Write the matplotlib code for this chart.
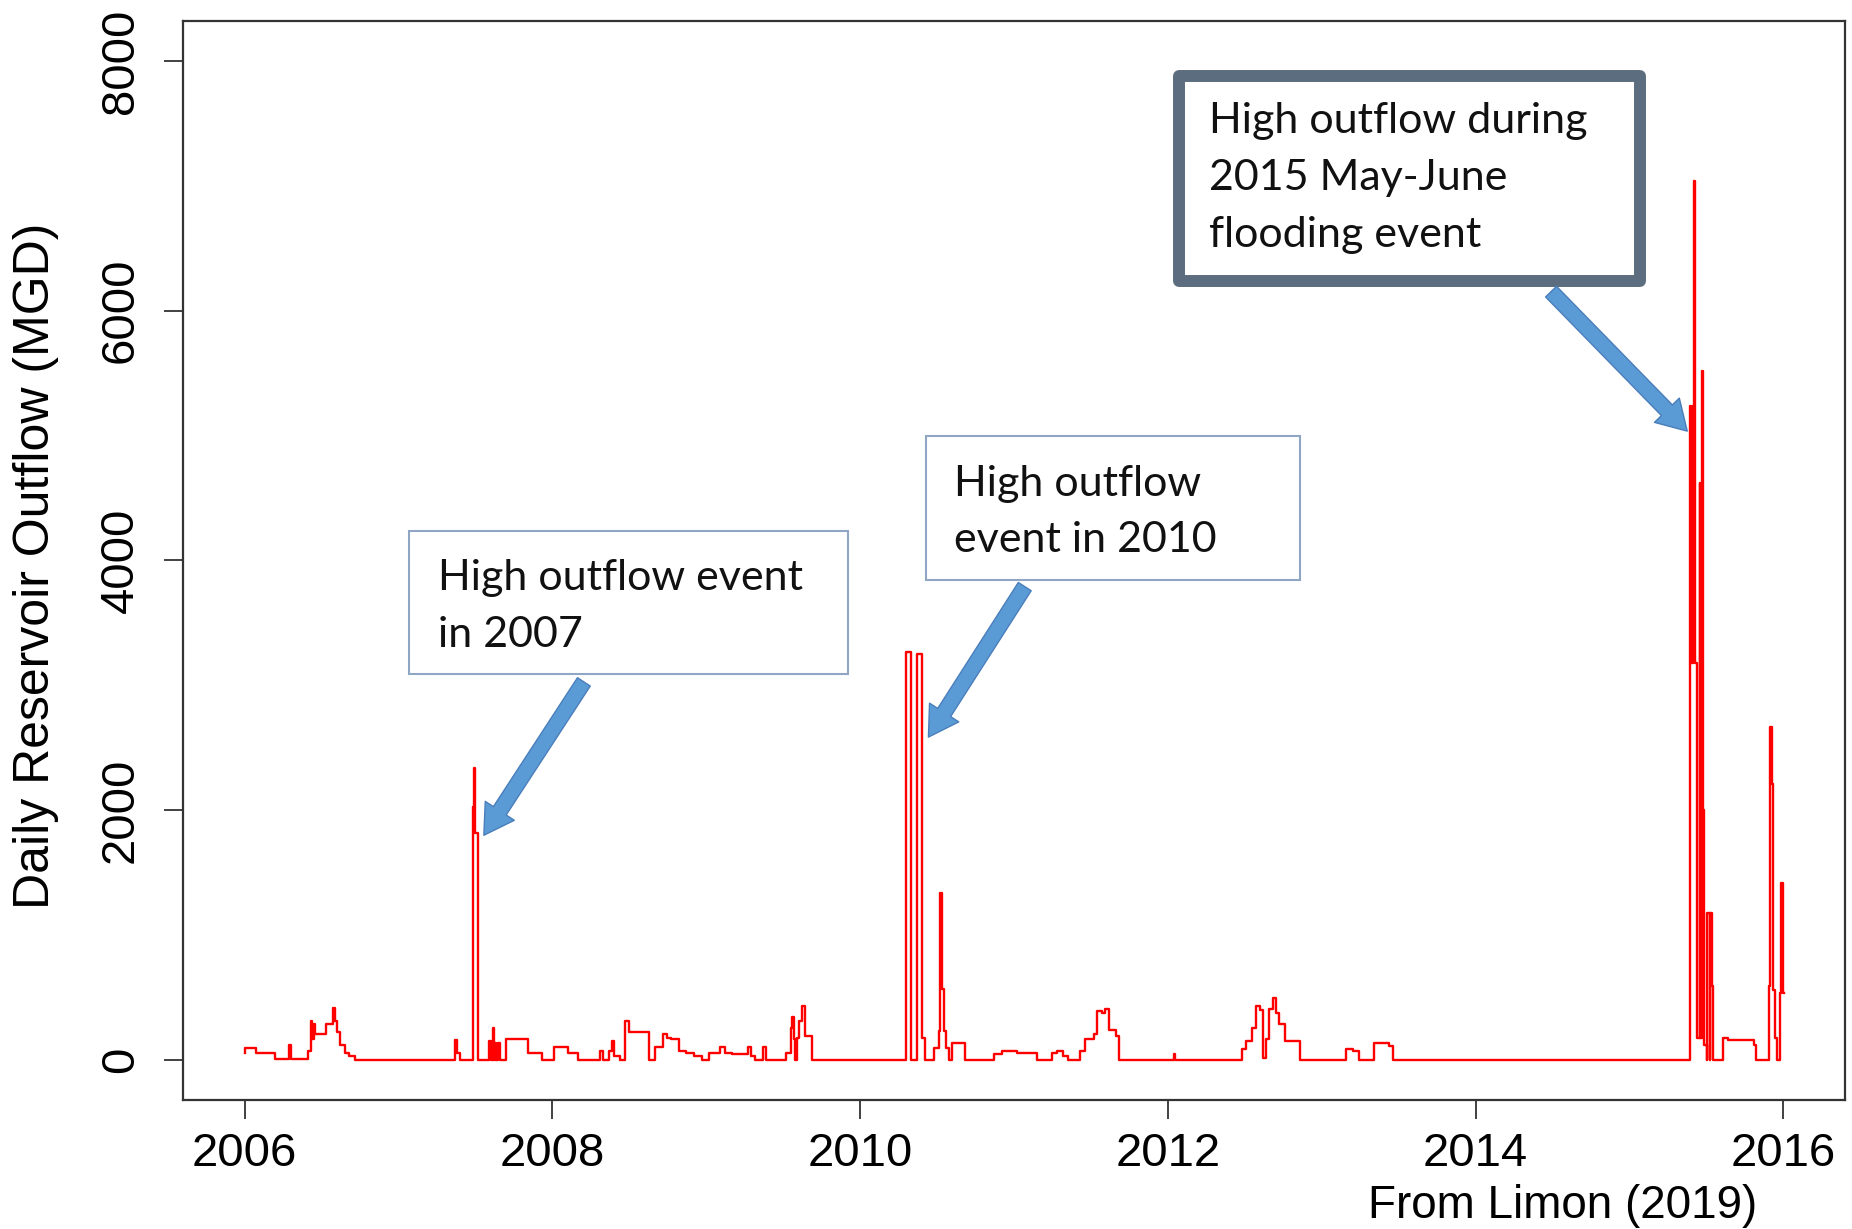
import matplotlib
matplotlib.use('Agg')
import matplotlib.pyplot as plt
from matplotlib.patches import Rectangle, FancyArrowPatch

# daily reservoir outflow (MGD)
dates = [
    2006.000, 2006.004, 2006.075, 2006.200, 2006.290, 2006.300, 2006.410, 2006.430, 2006.440, 2006.450,
    2006.460, 2006.530, 2006.575, 2006.585, 2006.600, 2006.620, 2006.650, 2006.680, 2006.720,
    2007.370, 2007.380, 2007.400,
    2007.485, 2007.490, 2007.495, 2007.500, 2007.520,
    2007.590, 2007.600, 2007.615, 2007.620, 2007.630, 2007.635, 2007.650, 2007.660, 2007.700, 2007.840,
    2007.930, 2008.010, 2008.100, 2008.170,
    2008.310, 2008.330, 2008.370, 2008.385, 2008.400, 2008.440, 2008.470, 2008.500, 2008.630, 2008.670,
    2008.720, 2008.745, 2008.770, 2008.820, 2008.870, 2008.920, 2008.970,
    2009.020, 2009.090, 2009.120, 2009.170, 2009.270, 2009.290, 2009.320, 2009.370, 2009.390,
    2009.520, 2009.550, 2009.560, 2009.570, 2009.580, 2009.590, 2009.600, 2009.625, 2009.640, 2009.690,
    2010.300, 2010.330, 2010.370, 2010.400, 2010.420, 2010.480, 2010.510, 2010.520, 2010.535, 2010.545,
    2010.560, 2010.580, 2010.595, 2010.680,
    2010.870, 2010.920, 2011.020, 2011.150, 2011.250, 2011.280, 2011.320, 2011.350, 2011.430, 2011.460,
    2011.520, 2011.540, 2011.570, 2011.590, 2011.620, 2011.660, 2011.680,
    2012.040, 2012.045,
    2012.480, 2012.510, 2012.545, 2012.570, 2012.600, 2012.620, 2012.640, 2012.660, 2012.680, 2012.700,
    2012.720, 2012.760, 2012.860,
    2013.160, 2013.200, 2013.240, 2013.340, 2013.440, 2013.460,
    2015.395, 2015.400, 2015.410, 2015.418, 2015.423, 2015.440, 2015.455, 2015.460, 2015.470, 2015.477,
    2015.485, 2015.500, 2015.505, 2015.520, 2015.525, 2015.535, 2015.545, 2015.610, 2015.640, 2015.810,
    2015.820,
    2015.905, 2015.912, 2015.925, 2015.935, 2015.945, 2015.955, 2015.975, 2015.985, 2015.995, 2016.003,
]
outflow = [
    60, 100, 60, 10, 120, 10, 75, 315, 165, 285,
    210, 285, 420, 315, 225, 120, 60, 30, 0,
    160, 60, 0,
    2030, 2340, 2030, 1815, 0,
    150, 0, 255, 0, 135, 0, 135, 0, 165, 60,
    0, 105, 60, 0,
    75, 0, 75, 150, 30, 0, 315, 225, 0, 105,
    210, 180, 165, 75, 60, 30, 0,
    60, 105, 60, 45, 105, 30, 0, 105, 0,
    60, 255, 345, 165, 0, 180, 315, 435, 195, 0,
    3270, 0, 3250, 180, 0, 100, 230, 1340, 570, 230,
    100, 0, 135, 0,
    45, 75, 60, 0, 60, 75, 30, 0, 75, 165,
    210, 390, 375, 405, 240, 195, 0,
    50, 0,
    90, 150, 255, 435, 400, 15, 165, 405, 495, 375,
    285, 150, 0,
    90, 75, 0, 135, 110, 0,
    5240, 3180, 5240, 7036, 3180, 175, 4620, 175, 5520, 2000,
    120, 0, 1180, 0, 1180, 595, 0, 175, 160, 120,
    0,
    595, 2665, 2210, 560, 175, 0, 540, 1420, 540, 540,
]

year_ticks = [2006, 2008, 2010, 2012, 2014, 2016]
flow_ticks = [0, 2000, 4000, 6000, 8000]

notes = [
    # lines, box (x0, y0, x1, y1), text x, baselines, arrow tail, arrow head
    (["High outflow event", "in 2007"], (2007.07, 3092, 2009.92, 4233), 2007.26, [3767, 3309],
     (2008.205, 3028), (2007.555, 1800)),
    (["High outflow", "event in 2010"], (2010.43, 3847, 2012.86, 4996), 2010.61, [4514, 4072],
     (2011.07, 3791), (2010.444, 2586)),
    (["High outflow during", "2015 May-June", "flooding event"], (2012.07, 6241, 2015.07, 7880), 2012.27,
     [7422, 6964, 6514], (2014.49, 6153), (2015.375, 5036)),
]

plt.rcParams['font.family'] = ['Liberation Sans', 'DejaVu Sans']

fig = plt.figure(figsize=(18.52, 12.29), dpi=100)
ax = fig.add_axes([183/1852, 1-1100/1229, 1662/1852, 1079/1229])

ax.plot(dates, outflow, color='#ff0000', lw=1.7, drawstyle='steps-post')

ax.set_xlim(2005.6, 2016.4)
ax.set_ylim(-320, 8320)
ax.set_xticks(year_ticks)
ax.set_xticklabels([str(y) for y in year_ticks])
ax.set_yticks(flow_ticks)
ax.set_yticklabels([str(v) for v in flow_ticks])
ax.tick_params(axis='both', direction='out', length=14, width=1.3, color='#333333',
               labelsize=34, labelcolor='black')
ax.tick_params(axis='x', pad=9)
ax.tick_params(axis='y', pad=15, labelrotation=90)
for lab in ax.get_yticklabels():
    lab.set_va('center')
for s in ax.spines.values():
    s.set_color('#333333')
    s.set_linewidth(1.6)

ax.set_ylabel('Daily Reservoir Outflow (MGD)', fontsize=36)
ax.yaxis.set_label_coords(-0.0746, 0.495)

fig.text(1563/1852, 1-1206/1229, 'From Limon (2019)', fontsize=33, ha='center', va='center')

for i, (lines, box, tx, bases, tail, head) in enumerate(notes):
    x0, y0, x1, y1 = box
    if i == 2:
        rect = Rectangle((x0, y0), x1-x0, y1-y0, facecolor='white', edgecolor='#5b6d7e',
                         lw=8.6, joinstyle='round', clip_on=False, zorder=5)
    else:
        rect = Rectangle((x0, y0), x1-x0, y1-y0, facecolor='white', edgecolor='#8fa6c4',
                         lw=1.5, clip_on=False, zorder=5)
    ax.add_patch(rect)
    for line, b in zip(lines, bases):
        ax.text(tx, b, line, fontsize=31, family=['Lato', 'DejaVu Sans'], color='#111111',
                ha='left', va='baseline', zorder=6)
    arr = FancyArrowPatch(tail, head, arrowstyle='simple,head_length=21,head_width=25,tail_width=11',
                          mutation_scale=1, shrinkA=0, shrinkB=0, facecolor='#5b9bd5',
                          edgecolor='#4a7ebb', lw=1, zorder=6, clip_on=False)
    ax.add_patch(arr)

fig.savefig('out.png', dpi=100)
